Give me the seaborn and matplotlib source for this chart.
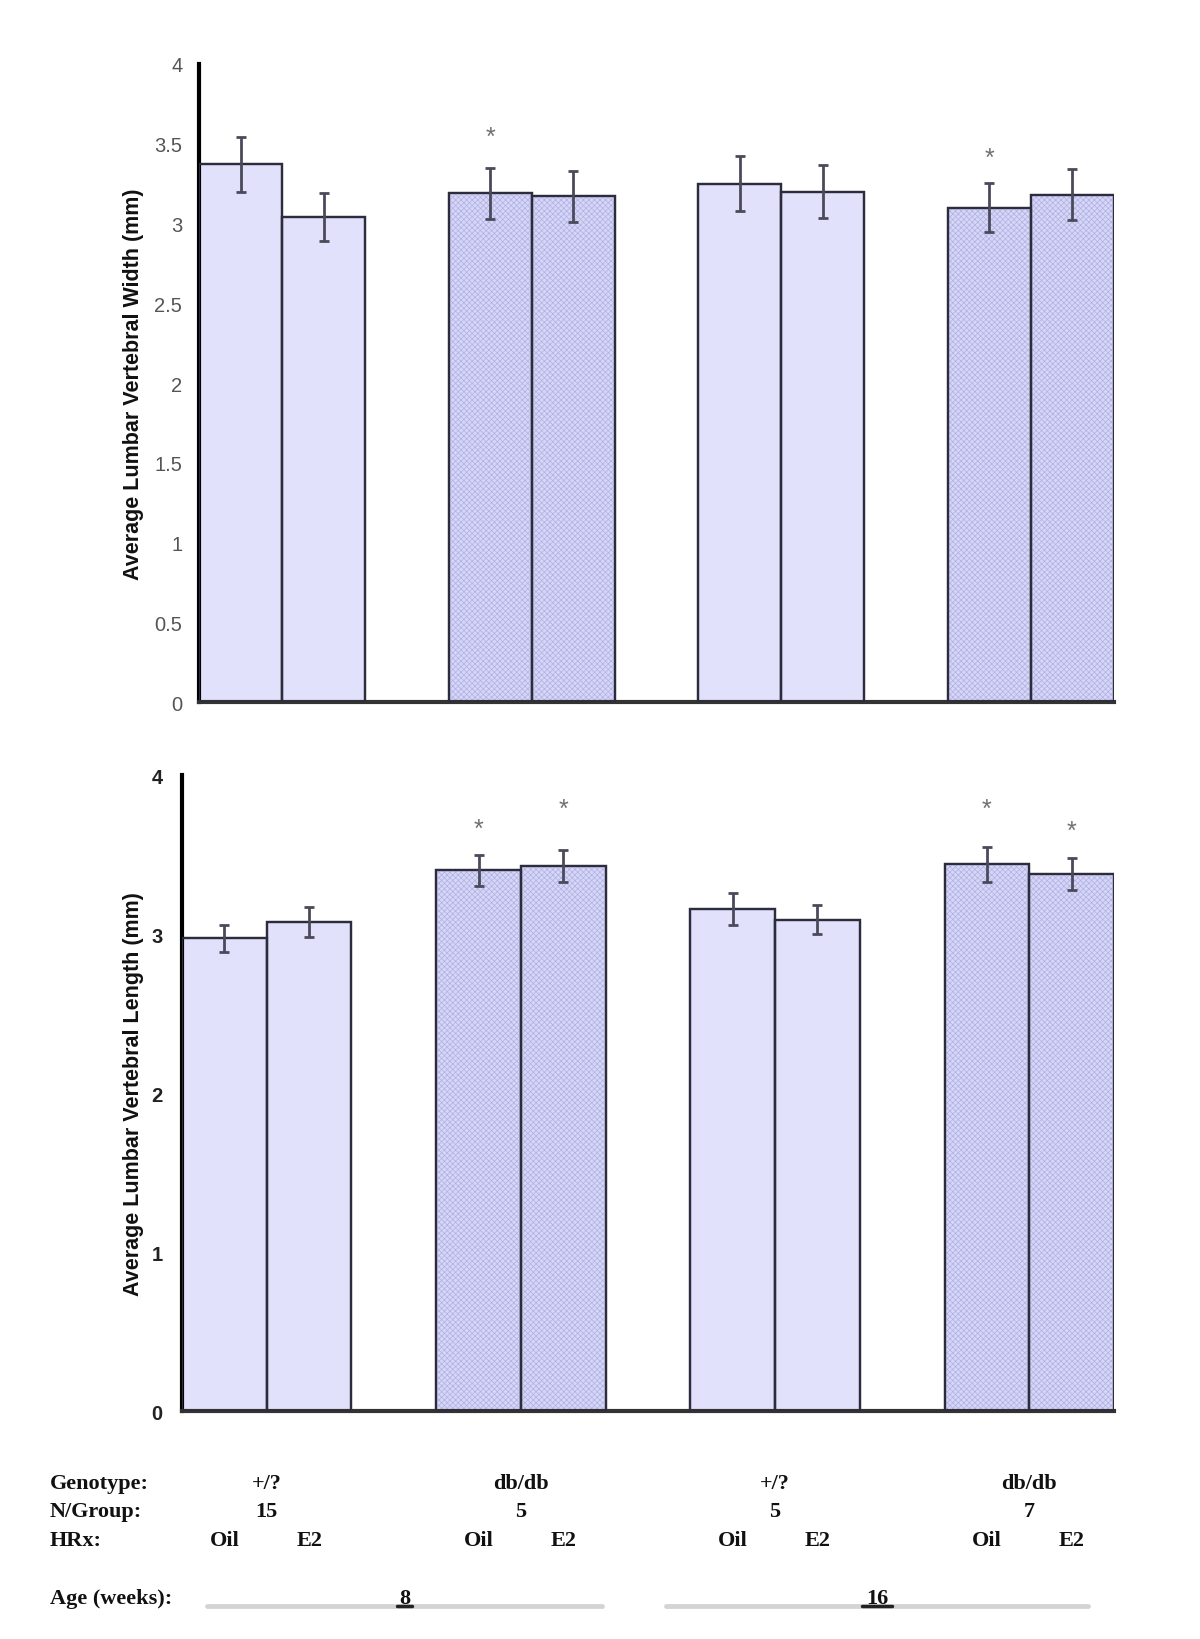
import matplotlib
matplotlib.use("Agg")
import matplotlib.pyplot as plt
import matplotlib.transforms as mtransforms
from matplotlib.ticker import FuncFormatter
import seaborn as sns
import pandas as pd

# ---------------- data ----------------
bar_labels = ["+/? 8 Oil", "+/? 8 E2", "db/db 8 Oil", "db/db 8 E2",
              "+/? 16 Oil", "+/? 16 E2", "db/db 16 Oil", "db/db 16 E2"]
genotype_per_bar = ["+/?", "+/?", "db/db", "db/db", "+/?", "+/?", "db/db", "db/db"]
treatment_per_bar = ["Oil", "E2", "Oil", "E2", "Oil", "E2", "Oil", "E2"]

width_mean = [3.37, 3.04, 3.19, 3.17, 3.25, 3.20, 3.10, 3.18]
width_err = [0.17, 0.15, 0.16, 0.16, 0.17, 0.165, 0.155, 0.16]
width_star = [False, False, True, False, False, False, True, False]

length_mean = [2.975, 3.075, 3.40, 3.43, 3.16, 3.09, 3.44, 3.38]
length_err = [0.085, 0.095, 0.10, 0.10, 0.10, 0.09, 0.11, 0.10]
length_star = [False, False, True, True, False, False, True, True]

group_genotype = ["+/?", "db/db", "+/?", "db/db"]
group_n = ["15", "5", "5", "7"]
age_labels = ["8", "16"]

width_ticks = [0, 0.5, 1, 1.5, 2, 2.5, 3, 3.5, 4]
length_ticks = [0, 1, 2, 3, 4]

# ---------------- styling ----------------
sns.set_style("white")
plt.rcParams["font.family"] = ["Liberation Sans", "DejaVu Sans"]
plt.rcParams["hatch.linewidth"] = 0.5

solid_color = "#e1e1fb"
hatch_face = "#d6d6f7"
hatch_line = "#b0b0e4"
edge_color = "#2c2c3c"
err_color = "#4a4a5a"

# order with empty slots between groups
order = []
for i, lab in enumerate(bar_labels):
    order.append(lab)
    if i % 2 == 1 and i < len(bar_labels) - 1:
        order.append(f"gap{i}")

fig = plt.figure(figsize=(12, 16.4), dpi=100)
ax_top = fig.add_axes([0.1658, 0.5713, 0.9283 - 0.1658, 0.9604 - 0.5713])
ax_bot = fig.add_axes([0.1517, 0.139, 0.9283 - 0.1517, 0.5268 - 0.139])


def draw_panel(ax, means, errs, stars, ticks, ylabel, label_x, star_heights, bold_ticks, pad):
    df = pd.DataFrame({"bar": bar_labels, "value": means, "genotype": genotype_per_bar})
    sns.barplot(data=df, x="bar", y="value", order=order, width=1.0, color=solid_color,
                saturation=1, errorbar=None, ax=ax, edgecolor=edge_color, linewidth=1.6,
                zorder=2)
    centers = {}
    for p in ax.patches:
        if p.get_height() != p.get_height():
            continue
        cx = p.get_x() + p.get_width() / 2
        idx = [i for i, lab in enumerate(bar_labels) if abs(order.index(lab) - cx) < 0.3]
        if not idx:
            continue
        i = idx[0]
        centers[i] = cx
        if genotype_per_bar[i] == "db/db":
            p.set_facecolor(hatch_face)
            ax.bar(cx, means[i], width=p.get_width(), color="none", edgecolor=hatch_line,
                   hatch="xxxxxx", linewidth=0, zorder=2.5)
    xs = [centers[i] for i in range(len(bar_labels))]
    ax.bar(xs, means, width=1.0, fill=False, edgecolor=edge_color, linewidth=1.6, zorder=3)
    ax.errorbar(xs, means, yerr=errs, fmt="none", ecolor=err_color, elinewidth=2,
                capsize=3.5, capthick=2, zorder=4)
    k = 0
    for i, s in enumerate(stars):
        if s:
            ax.text(xs[i], star_heights[k], "*", ha="center", va="center",
                    fontsize=18, color="#707070", zorder=5)
            k += 1
    ax.set_xlim(-0.5, len(order) - 0.5)
    ax.set_ylim(0, 4)
    ax.set_yticks(ticks)
    ax.yaxis.set_major_formatter(FuncFormatter(lambda v, _: f"{v:g}"))
    ax.set_xticks([])
    ax.set_xlabel("")
    ax.set_ylabel(ylabel, fontsize=15.5, fontweight="bold", color="#111111")
    ax.yaxis.set_label_coords(label_x, 0.5)
    for sp in ["top", "right"]:
        ax.spines[sp].set_visible(False)
    ax.spines["left"].set_linewidth(3)
    ax.spines["left"].set_color("#000000")
    ax.spines["bottom"].set_linewidth(3)
    ax.spines["bottom"].set_color("#333333")
    ax.tick_params(axis="y", direction="out", length=6, width=2.5, color="#111111",
                   labelsize=14.5, labelcolor="#555555" if not bold_ticks else "#222222", pad=pad)
    if bold_ticks:
        for t in ax.get_yticklabels():
            t.set_fontweight("bold")
    return xs


draw_panel(ax_top, width_mean, width_err, width_star, width_ticks,
           "Average Lumbar Vertebral Width (mm)", -0.060, [3.54, 3.41], False, 6)
xs_bot = draw_panel(ax_bot, length_mean, length_err, length_star, length_ticks,
                    "Average Lumbar Vertebral Length (mm)", -0.041, [3.66, 3.79, 3.79, 3.65], True, 8)

# ---------------- table below ----------------
serif = ["Liberation Serif", "DejaVu Serif"]
tfont = dict(family=serif, fontweight="bold", fontsize=16, color="#111111")
trans = mtransforms.blended_transform_factory(ax_bot.transData, fig.transFigure)

rows_y = [1 - 1484 / 1640, 1 - 1512 / 1640, 1 - 1541 / 1640]
age_y = 1 - 1599 / 1640
line_y = 1 - 1607 / 1640

for lab, y in zip(["Genotype:", "N/Group:", "HRx:"], rows_y):
    fig.text(50 / 1200, y, lab, ha="left", va="center", **tfont)
fig.text(50 / 1200, age_y, "Age (weeks):", ha="left", va="center", **tfont)

for g in range(4):
    gx = (xs_bot[2 * g] + xs_bot[2 * g + 1]) / 2
    ax_bot.text(gx, rows_y[0], group_genotype[g], transform=trans, ha="center", va="center", **tfont)
    ax_bot.text(gx, rows_y[1], group_n[g], transform=trans, ha="center", va="center", **tfont)
for i, tr in enumerate(treatment_per_bar):
    ax_bot.text(xs_bot[i], rows_y[2], tr, transform=trans, ha="center", va="center", **tfont)

# age lines
age_spans = [(207, 602), (666, 1088)]
for (x0, x1), lab in zip(age_spans, age_labels):
    fig.add_artist(plt.Line2D([x0 / 1200, x1 / 1200], [line_y, line_y],
                              transform=fig.transFigure, color="#d4d4d4", linewidth=3.5))
    xm = (x0 + x1) / 2 / 1200
    fig.text(xm, age_y, lab, ha="center", va="center", **tfont)
    wlen = 0.0125 * len(lab)
    fig.add_artist(plt.Line2D([xm - wlen / 2, xm + wlen / 2], [line_y, line_y],
                              transform=fig.transFigure, color="#222222", linewidth=2.5))

fig.savefig("out.png", dpi=100, facecolor="white")
